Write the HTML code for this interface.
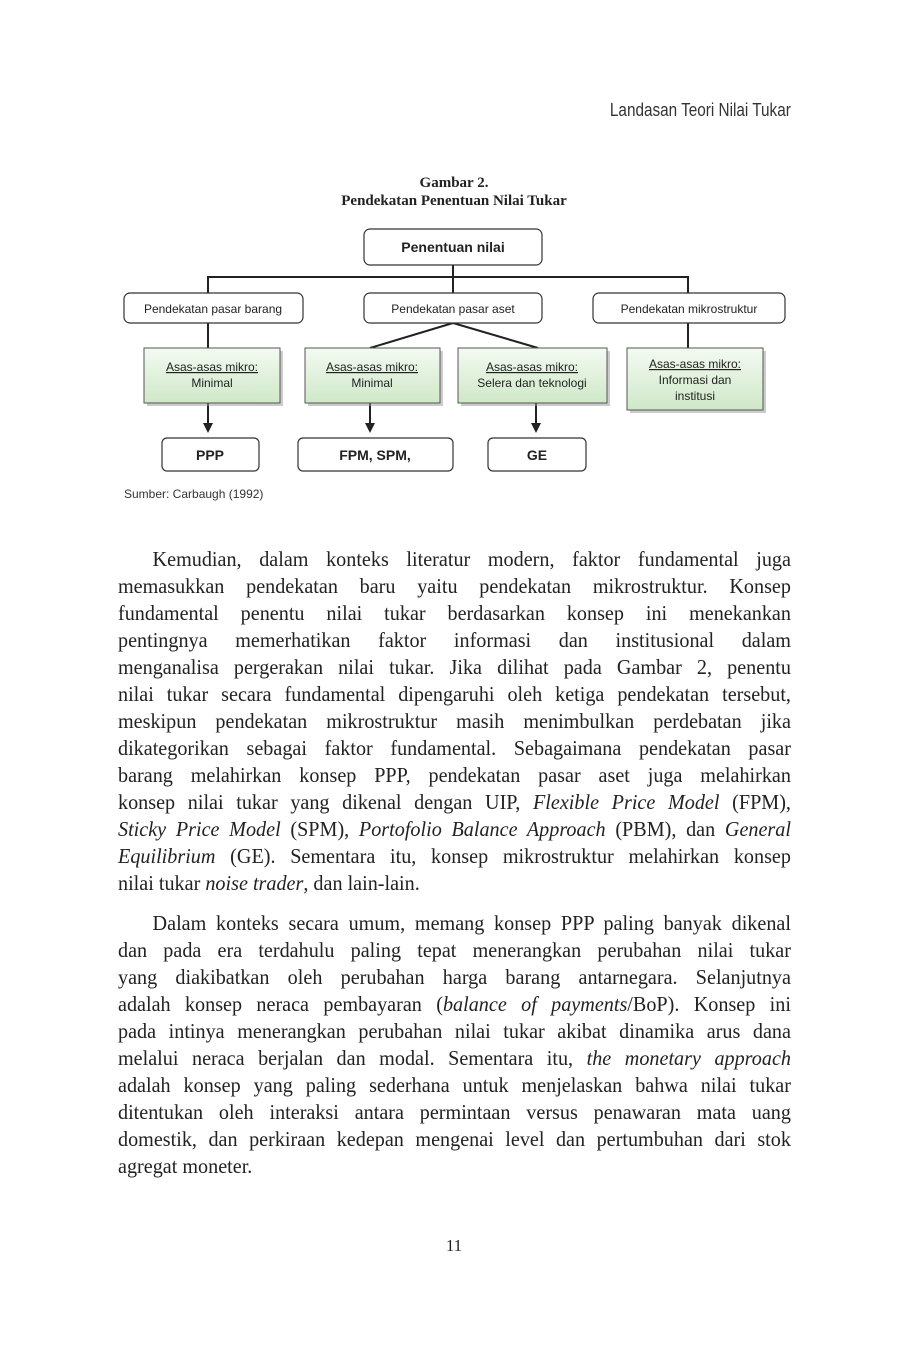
<!DOCTYPE html>
<html><head><meta charset="utf-8">
<style>
body{margin:0;background:#fff;}
.page{position:relative;width:898px;height:1347px;overflow:hidden;font-family:"Liberation Serif",serif;color:#222;}
.hdr{position:absolute;right:107px;top:100px;font-family:"Liberation Sans",sans-serif;font-size:18px;color:#333;transform:scaleX(0.85);transform-origin:right;}
.cap{position:absolute;left:0;width:908px;text-align:center;font-weight:bold;font-size:15px;line-height:18px;top:174px;}
.src{position:absolute;left:124px;top:487px;font-family:"Liberation Sans",sans-serif;font-size:12px;color:#333;}
.txt{position:absolute;left:118px;width:701px;transform:scaleX(0.96);transform-origin:left top;font-size:21px;}
.l{height:27px;line-height:27px;white-space:nowrap;text-align:justify;text-align-last:justify;}
.l.e{text-align-last:left;}
.in{text-indent:36px;}
.pn{position:absolute;left:0;width:908px;text-align:center;top:1236px;font-size:17px;}
</style></head><body><div class="page">
<div class="hdr">Landasan Teori Nilai Tukar</div>
<div class="cap">Gambar 2.<br>Pendekatan Penentuan Nilai Tukar</div>
<svg width="898" height="500" style="position:absolute;left:0;top:0" font-family="Liberation Sans, sans-serif">
<defs>
<linearGradient id="g" x1="0" y1="0" x2="0" y2="1"><stop offset="0" stop-color="#f4faf2"/><stop offset="1" stop-color="#cfe8c8"/></linearGradient>
<marker id="a" markerWidth="10" markerHeight="10" refX="5" refY="5" orient="auto" markerUnits="userSpaceOnUse"><path d="M0,0 L10,5 L0,10 z" fill="#222"/></marker>
</defs>
<g stroke="#222" stroke-width="2" fill="none">
<line x1="453" y1="265" x2="453" y2="293"/>
<polyline points="208,293 208,277 688,277 688,293"/>
<line x1="208" y1="323" x2="208" y2="348"/>
<line x1="688" y1="323" x2="688" y2="348"/>
<line x1="453" y1="323" x2="370" y2="348"/>
<line x1="453" y1="323" x2="538" y2="348"/>
<line x1="208" y1="403" x2="208" y2="428" marker-end="url(#a)"/>
<line x1="370" y1="403" x2="370" y2="428" marker-end="url(#a)"/>
<line x1="536" y1="403" x2="536" y2="428" marker-end="url(#a)"/>
</g>
<g stroke="#333" stroke-width="1.2" fill="#fff">
<rect x="364" y="229" width="178" height="36" rx="6"/>
<rect x="124" y="293" width="179" height="30" rx="6"/>
<rect x="364" y="293" width="178" height="30" rx="6"/>
<rect x="593" y="293" width="192" height="30" rx="6"/>
<rect x="162" y="438" width="97" height="33" rx="5"/>
<rect x="298" y="438" width="155" height="33" rx="5"/>
<rect x="488" y="438" width="98" height="33" rx="5"/>
</g>
<g fill="#999" opacity="0.5">
<rect x="147" y="351" width="136" height="55"/><rect x="308" y="351" width="135" height="55"/><rect x="461" y="351" width="149" height="55"/><rect x="630" y="351" width="136" height="62"/>
</g>
<g stroke="#555" stroke-width="1" fill="url(#g)">
<rect x="144" y="348" width="136" height="55"/><rect x="305" y="348" width="135" height="55"/><rect x="458" y="348" width="149" height="55"/><rect x="627" y="348" width="136" height="62"/>
</g>
<g font-size="12" fill="#222" text-anchor="middle">
<text x="453" y="252" font-size="14" font-weight="bold">Penentuan nilai</text>
<text x="213" y="313">Pendekatan pasar barang</text>
<text x="453" y="313">Pendekatan pasar aset</text>
<text x="689" y="313">Pendekatan mikrostruktur</text>
<text x="212" y="371" text-decoration="underline">Asas-asas mikro:</text><text x="212" y="387">Minimal</text>
<text x="372" y="371" text-decoration="underline">Asas-asas mikro:</text><text x="372" y="387">Minimal</text>
<text x="532" y="371" text-decoration="underline">Asas-asas mikro:</text><text x="532" y="387">Selera dan teknologi</text>
<text x="695" y="368" text-decoration="underline">Asas-asas mikro:</text><text x="695" y="384">Informasi dan</text><text x="695" y="400">institusi</text>
<g font-size="14" font-weight="bold"><text x="210" y="460">PPP</text><text x="375" y="460">FPM, SPM,</text><text x="537" y="460">GE</text></g>
</g>
</svg>
<div class="src">Sumber: Carbaugh (1992)</div>
<div class="txt" style="top:546px">
<div class="l in">Kemudian, dalam konteks literatur modern, faktor fundamental juga</div>
<div class="l">memasukkan pendekatan baru yaitu pendekatan mikrostruktur. Konsep</div>
<div class="l">fundamental penentu nilai tukar berdasarkan konsep ini menekankan</div>
<div class="l">pentingnya memerhatikan faktor informasi dan institusional dalam</div>
<div class="l">menganalisa pergerakan nilai tukar. Jika dilihat pada Gambar 2, penentu</div>
<div class="l">nilai tukar secara fundamental dipengaruhi oleh ketiga pendekatan tersebut,</div>
<div class="l">meskipun pendekatan mikrostruktur masih menimbulkan perdebatan jika</div>
<div class="l">dikategorikan sebagai faktor fundamental. Sebagaimana pendekatan pasar</div>
<div class="l">barang melahirkan konsep PPP, pendekatan pasar aset juga melahirkan</div>
<div class="l">konsep nilai tukar yang dikenal dengan UIP, <i>Flexible Price Model</i> (FPM),</div>
<div class="l"><i>Sticky Price Model</i> (SPM), <i>Portofolio Balance Approach</i> (PBM), dan <i>General</i></div>
<div class="l"><i>Equilibrium</i> (GE). Sementara itu, konsep mikrostruktur melahirkan konsep</div>
<div class="l e">nilai tukar <i>noise trader</i>, dan lain-lain.</div>
</div>
<div class="txt" style="top:910px">
<div class="l in">Dalam konteks secara umum, memang konsep PPP paling banyak dikenal</div>
<div class="l">dan pada era terdahulu paling tepat menerangkan perubahan nilai tukar</div>
<div class="l">yang diakibatkan oleh perubahan harga barang antarnegara. Selanjutnya</div>
<div class="l">adalah konsep neraca pembayaran (<i>balance of payments</i>/BoP). Konsep ini</div>
<div class="l">pada intinya menerangkan perubahan nilai tukar akibat dinamika arus dana</div>
<div class="l">melalui neraca berjalan dan modal. Sementara itu, <i>the monetary approach</i></div>
<div class="l">adalah konsep yang paling sederhana untuk menjelaskan bahwa nilai tukar</div>
<div class="l">ditentukan oleh interaksi antara permintaan versus penawaran mata uang</div>
<div class="l">domestik, dan perkiraan kedepan mengenai level dan pertumbuhan dari stok</div>
<div class="l e">agregat moneter.</div>
</div>
<div class="pn">11</div>
</div></body></html>
